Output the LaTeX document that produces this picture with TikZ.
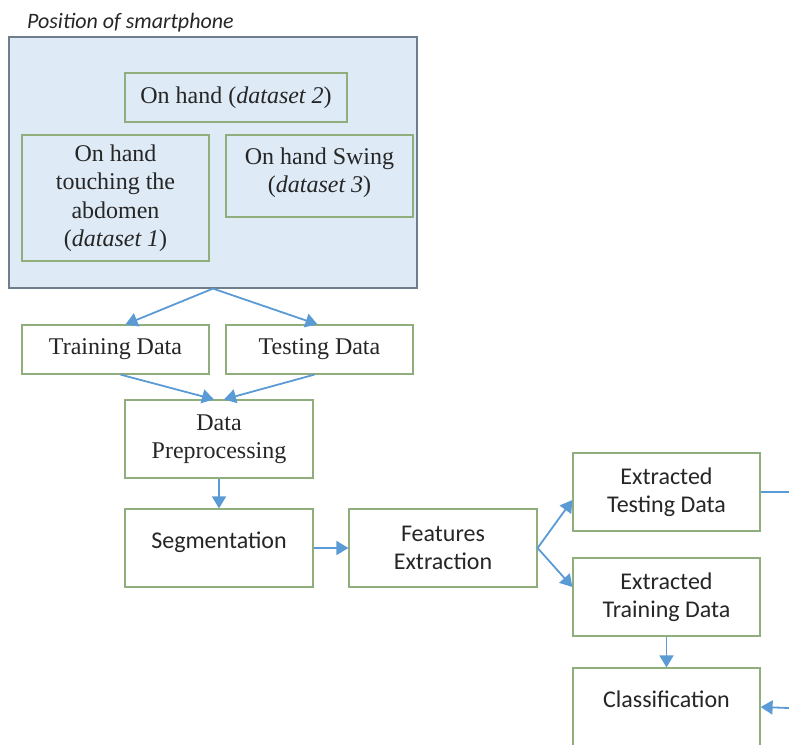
\documentclass[tikz,border=0pt]{standalone}
\usepackage{fontspec}
\setmainfont{Liberation Serif}
\newfontfamily\calibri{Carlito}
\usetikzlibrary{arrows.meta,calc}
\definecolor{outerfill}{HTML}{DEEAF6}
\definecolor{outerline}{HTML}{6F7E8C}
\definecolor{boxline}{HTML}{8FAE7C}
\definecolor{arrowc}{HTML}{5B9BD5}
\definecolor{txt}{HTML}{262626}
\tikzset{
  box/.style={draw=boxline, line width=1.2pt, fill=white, inner sep=0pt, align=center, text=txt},
  serifbox/.style={box, font=\fontsize{24}{28.5}\selectfont},
  sansbox/.style={box, font=\calibri\fontsize{24}{28}\selectfont},
  innerbox/.style={serifbox, fill=outerfill},
  arr/.style={draw=arrowc, line width=1.8pt, -{Triangle[width=14pt,length=12pt]}},
  plainline/.style={draw=arrowc, line width=1.8pt}
}
\begin{document}
\begin{tikzpicture}[x=1pt,y=-1pt]
\useasboundingbox (0,0) rectangle (789,744);
\clip (0,0) rectangle (789,744);
\node[anchor=base west, text=txt, font=\calibri\itshape\fontsize{22}{24}\selectfont, inner sep=0pt] (title) at (27,28) {Position of smartphone};
\node[draw=outerline, line width=1.2pt, fill=outerfill, minimum width=408pt, minimum height=251pt, inner sep=0pt] (outer) at (213,162.5) {};
\node[innerbox, minimum width=222pt, minimum height=49pt] (ds2) at (236,97.5) {On hand (\textit{dataset 2})};
\node[innerbox, minimum width=187pt, minimum height=126pt] (ds1) at (115.5,198) {On hand\\touching the\\abdomen\\(\textit{dataset 1})};
\node[innerbox, minimum width=187pt, minimum height=82pt, text depth=12pt] (ds3) at (319.5,176) {On hand Swing\\(\textit{dataset 3})};
\node[serifbox, minimum width=187pt, minimum height=49pt] (train) at (115.5,349.5) {Training Data};
\node[serifbox, minimum width=187pt, minimum height=49pt] (test) at (319.5,349.5) {Testing Data};
\node[serifbox, minimum width=188pt, minimum height=78pt] (pre) at (219,439) {Data\\Preprocessing};
\node[sansbox, minimum width=188pt, minimum height=78pt, text depth=16pt] (seg) at (219,548) {Segmentation};
\node[sansbox, minimum width=188pt, minimum height=78pt] (feat) at (443,548) {Features\\Extraction};
\node[sansbox, minimum width=187pt, minimum height=78pt] (ext) at (666.5,492) {Extracted\\Testing Data};
\node[sansbox, minimum width=187pt, minimum height=78pt] (etr) at (666.5,597) {Extracted\\Training Data};
\node[sansbox, minimum width=187pt, minimum height=78pt, text depth=16pt] (cls) at (666.5,707) {Classification};
\coordinate (r1) at (789,492);
\coordinate (r2) at (789,708);
\draw[arr] (outer.south) -- ($(train.north)+(10,0)$);
\draw[arr] (outer.south) -- ($(test.north)+(-2,0)$);
\draw[arr] ($(train.south)+(5,0)$) -- ($(pre.north)+(-5,0)$);
\draw[arr] ($(test.south)+(-5,0)$) -- ($(pre.north)+(5,0)$);
\draw[arr] (pre.south) -- (seg.north);
\draw[arr] (seg.east) -- (feat.west);
\draw[arr] (feat.east) -- ($(ext.west)+(0,8)$);
\draw[arr] (feat.east) -- ($(etr.west)+(0,-10)$);
\draw[arr] (etr.south) -- (cls.north);
\draw[plainline] (ext.east) -- (r1);
\draw[arr] (r2) -- (cls.east);
\end{tikzpicture}
\end{document}
